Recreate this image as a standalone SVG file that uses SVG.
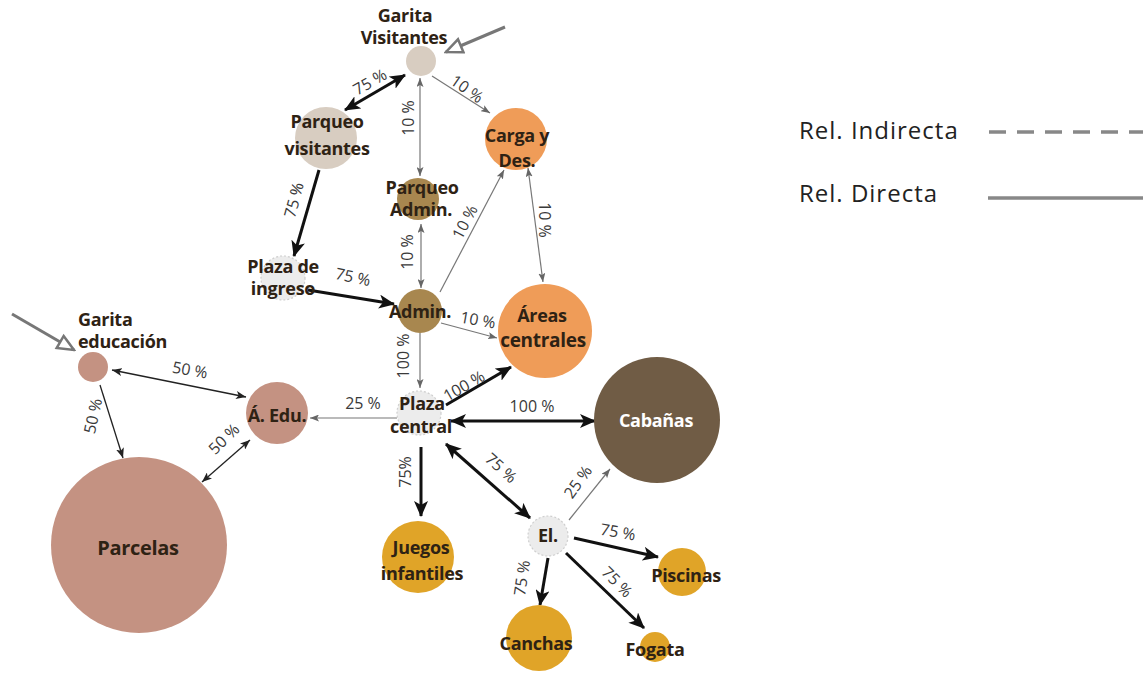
<svg xmlns="http://www.w3.org/2000/svg" width="1143" height="673" viewBox="0 0 1143 673">
<defs>
<style>
.n{font-family:"Open Sans","Noto Sans",sans-serif;font-weight:700;font-size:18px;fill:#2e2214;text-anchor:middle;letter-spacing:-0.3px}
.p{font-family:"Open Sans","Noto Sans",sans-serif;font-size:16px;fill:#3a3a3a;text-anchor:middle}
.lg{font-family:"Open Sans","Noto Sans",sans-serif;font-size:24px;fill:#222;letter-spacing:1px}
.k{stroke:#111;stroke-width:3;fill:none}
.t{stroke:#222;stroke-width:1.3;fill:none}
.g{stroke:#777;stroke-width:1.2;fill:none}
.dot{fill:#ececec;stroke:#cfcfcf;stroke-width:1.2;stroke-dasharray:2 2}
</style>
<marker id="ak" markerUnits="userSpaceOnUse" markerWidth="16" markerHeight="14" refX="15" refY="7" orient="auto-start-reverse"><path d="M0,0 L16,7 L0,14 L4,7 z" fill="#111"/></marker>
<marker id="at" markerUnits="userSpaceOnUse" markerWidth="10" markerHeight="8" refX="10" refY="4" orient="auto-start-reverse"><path d="M0,0 L10,4 L0,8 L2.5,4 z" fill="#222"/></marker>
<marker id="ag" markerUnits="userSpaceOnUse" markerWidth="9" markerHeight="7" refX="9" refY="3.5" orient="auto-start-reverse"><path d="M0,0 L9,3.5 L0,7 L2,3.5 z" fill="#666"/></marker>
<marker id="ah" markerUnits="userSpaceOnUse" markerWidth="20" markerHeight="18" refX="18" refY="9" orient="auto"><path d="M2,2 L18,9 L2,16 z" fill="#fff" stroke="#777" stroke-width="2.5"/></marker>
</defs>
<rect width="1143" height="673" fill="#fff"/>

<g id="connectors">
<line x1="505" y1="27" x2="446" y2="52" stroke="#777" stroke-width="3" marker-end="url(#ah)"/>
<line x1="12" y1="314" x2="74" y2="350" stroke="#777" stroke-width="3" marker-end="url(#ah)"/>
<line class="k" x1="405" y1="75" x2="345" y2="110" marker-start="url(#ak)" marker-end="url(#ak)"/>
<line class="g" x1="420" y1="78" x2="420" y2="176" marker-start="url(#ag)" marker-end="url(#ag)"/>
<line class="g" x1="432" y1="76" x2="490" y2="113" marker-end="url(#ag)"/>
<line class="k" x1="319" y1="170" x2="294" y2="256" marker-end="url(#ak)"/>
<line class="g" x1="421" y1="224" x2="421" y2="288" marker-start="url(#ag)" marker-end="url(#ag)"/>
<line class="g" x1="440" y1="292" x2="504" y2="170" marker-end="url(#ag)"/>
<line class="g" x1="528" y1="168" x2="543" y2="282" marker-start="url(#ag)" marker-end="url(#ag)"/>
<line class="k" x1="308" y1="290" x2="394" y2="304" marker-end="url(#ak)"/>
<line class="g" x1="441" y1="323" x2="497" y2="338" marker-end="url(#ag)"/>
<line class="g" x1="420" y1="333" x2="420" y2="388" marker-end="url(#ag)"/>
<line class="k" x1="446" y1="405" x2="511" y2="367" marker-end="url(#ak)"/>
<line class="k" x1="451" y1="421" x2="595" y2="421" marker-start="url(#ak)" marker-end="url(#ak)"/>
<line class="g" x1="397" y1="418" x2="310" y2="418" marker-end="url(#ag)"/>
<line class="t" x1="112" y1="370" x2="246" y2="397" marker-start="url(#at)" marker-end="url(#at)"/>
<line class="t" x1="100" y1="385" x2="123" y2="458" marker-end="url(#at)"/>
<line class="t" x1="250" y1="440" x2="202" y2="482" marker-start="url(#at)" marker-end="url(#at)"/>
<line class="k" x1="421" y1="447" x2="421" y2="516" marker-end="url(#ak)"/>
<line class="k" x1="446" y1="444" x2="530" y2="518" marker-start="url(#ak)" marker-end="url(#ak)"/>
<line class="g" x1="569" y1="520" x2="610" y2="469" marker-end="url(#ag)"/>
<line class="k" x1="574" y1="538" x2="658" y2="557" marker-end="url(#ak)"/>
<line class="k" x1="548" y1="558" x2="540" y2="605" marker-end="url(#ak)"/>
<line class="k" x1="566" y1="553" x2="644" y2="628" marker-end="url(#ak)"/>

<text class="p" dy="0.35em" transform="translate(370,82) rotate(-30)">75 %</text>
<text class="p" dy="0.35em" transform="translate(408,118) rotate(-90)">10 %</text>
<text class="p" dy="0.35em" transform="translate(467,89) rotate(35)">10 %</text>
<text class="p" dy="0.35em" transform="translate(294,200) rotate(-75)">75 %</text>
<text class="p" dy="0.35em" transform="translate(407,252) rotate(-90)">10 %</text>
<text class="p" dy="0.35em" transform="translate(465,222) rotate(-62)">10 %</text>
<text class="p" dy="0.35em" transform="translate(545,220) rotate(90)">10 %</text>
<text class="p" dy="0.35em" transform="translate(353,277) rotate(12)">75 %</text>
<text class="p" dy="0.35em" transform="translate(478,320) rotate(10)">10 %</text>
<text class="p" dy="0.35em" transform="translate(403,356) rotate(-90)">100 %</text>
<text class="p" dy="0.35em" transform="translate(464,386) rotate(-30)">100 %</text>
<text class="p" dy="0.35em" x="532" y="406">100 %</text>
<text class="p" dy="0.35em" x="363" y="403">25 %</text>
<text class="p" dy="0.35em" transform="translate(190,370) rotate(10)">50 %</text>
<text class="p" dy="0.35em" transform="translate(93,416) rotate(-78)">50 %</text>
<text class="p" dy="0.35em" transform="translate(224,439) rotate(-45)">50 %</text>
<text class="p" dy="0.35em" transform="translate(405,472) rotate(-90)">75%</text>
<text class="p" dy="0.35em" transform="translate(501,468) rotate(42)">75 %</text>
<text class="p" dy="0.35em" transform="translate(578,482) rotate(-55)">25 %</text>
<text class="p" dy="0.35em" transform="translate(618,532) rotate(10)">75 %</text>
<text class="p" dy="0.35em" transform="translate(522,578) rotate(-82)">75 %</text>
<text class="p" dy="0.35em" transform="translate(617,582) rotate(45)">75 %</text>
</g>

<g id="garita-visitantes"><circle cx="421" cy="61" r="15" fill="#d8cdc1"/><text class="n"><tspan x="405" y="22">Garita</tspan><tspan x="404" y="44">Visitantes</tspan></text></g>
<g id="parqueo-visitantes"><circle cx="326" cy="138" r="31" fill="#d8cdc1"/><text class="n"><tspan x="327" y="128">Parqueo</tspan><tspan x="327" y="155">visitantes</tspan></text></g>
<g id="carga-des"><circle cx="516" cy="139" r="31" fill="#ef9c58"/><text class="n"><tspan x="517" y="142">Carga y</tspan><tspan x="517" y="167">Des.</tspan></text></g>
<g id="parqueo-admin"><circle cx="418" cy="199" r="21" fill="#a8874f"/><text class="n"><tspan x="422" y="194">Parqueo</tspan><tspan x="421" y="216">Admin.</tspan></text></g>
<g id="plaza-ingreso"><circle class="dot" cx="283" cy="278" r="22"/><text class="n"><tspan x="283" y="273">Plaza de</tspan><tspan x="283" y="295">ingreso</tspan></text></g>
<g id="admin"><circle cx="420" cy="311" r="22" fill="#a8874f"/><text class="n" x="420" y="318">Admin.</text></g>
<g id="areas-centrales"><circle cx="545" cy="331" r="47" fill="#ef9c58"/><text class="n"><tspan x="542" y="322">Áreas</tspan><tspan x="543" y="347" style="font-size:19px">centrales</tspan></text></g>
<g id="garita-educacion"><circle cx="93" cy="367" r="15" fill="#c49282"/><text class="n" style="text-anchor:start"><tspan x="78" y="326">Garita</tspan><tspan x="78" y="348">educación</tspan></text></g>
<g id="a-edu"><circle cx="277" cy="413" r="31" fill="#c49282"/><text class="n" x="277" y="422">Á. Edu.</text></g>
<g id="plaza-central"><circle class="dot" cx="419" cy="413" r="22"/><text class="n"><tspan x="422" y="410">Plaza</tspan><tspan x="421" y="433">central</tspan></text></g>
<g id="cabanas"><circle cx="657" cy="420" r="63" fill="#705c45"/><text class="n" x="656" y="427" style="fill:#fff">Cabañas</text></g>
<g id="parcelas"><circle cx="139" cy="545" r="88" fill="#c49282"/><text class="n" x="138" y="555" style="font-size:20px">Parcelas</text></g>
<g id="juegos"><circle cx="418" cy="557" r="36" fill="#e0a428"/><text class="n"><tspan x="421" y="554">Juegos</tspan><tspan x="422" y="580">infantiles</tspan></text></g>
<g id="el"><circle class="dot" cx="548" cy="536" r="20"/><text class="n" x="548" y="542">El.</text></g>
<g id="piscinas"><circle cx="682" cy="572" r="24" fill="#e0a428"/><text class="n" x="686" y="582">Piscinas</text></g>
<g id="canchas"><circle cx="539" cy="638" r="33" fill="#e0a428"/><text class="n" x="536" y="650">Canchas</text></g>
<g id="fogata"><circle cx="655" cy="647" r="15" fill="#e0a428"/><text class="n" x="655" y="656">Fogata</text></g>

<g id="legend">
<text class="lg" x="799" y="139">Rel. Indirecta</text>
<line x1="989" y1="132" x2="1143" y2="132" stroke="#888" stroke-width="3.5" stroke-dasharray="17 11"/>
<text class="lg" x="799" y="202">Rel. Directa</text>
<line x1="988" y1="198" x2="1143" y2="198" stroke="#888" stroke-width="3.5"/>
</g>
</svg>
